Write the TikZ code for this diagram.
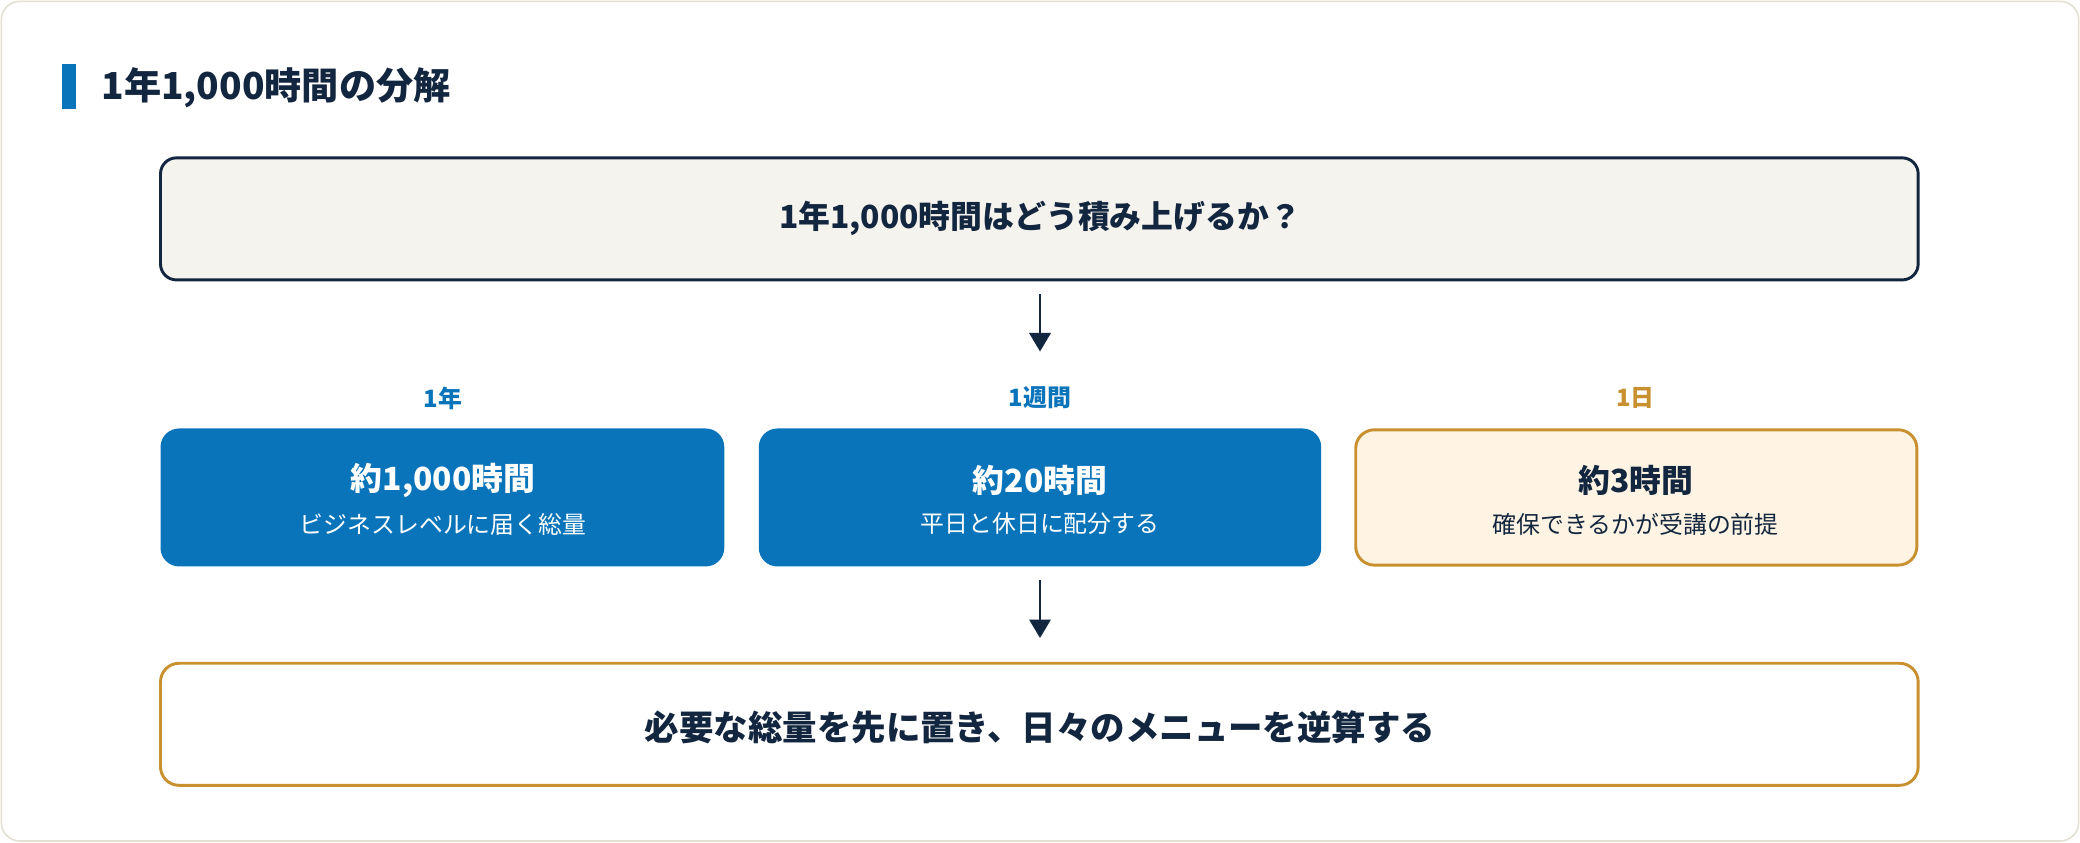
\documentclass[tikz,border=0pt]{standalone}
\usepackage{fontspec}
\setmainfont{Noto Sans CJK JP}
\usetikzlibrary{arrows.meta}
\definecolor{navy}{HTML}{13263F}
\definecolor{blu}{HTML}{0A74BA}
\definecolor{gold}{HTML}{C8902E}
\definecolor{cream}{HTML}{F5F3EE}
\definecolor{pale}{HTML}{FFF4E3}
\definecolor{edge}{HTML}{E2DFD3}
\tikzset{
 box/.style={draw=navy,line width=2.2pt,rounded corners=12pt,fill=cream},
 bluebox/.style={fill=blu,rounded corners=14pt},
 goldbox/.style={draw=gold,line width=2.2pt,rounded corners=14pt,fill=pale},
 arr/.style={draw=navy,line width=2.2pt,-{Triangle[length=14pt,width=16pt]}},
 lab/.style={font=\bfseries\fontsize{18}{20}\selectfont},
 big/.style={font=\bfseries\fontsize{24}{28}\selectfont},
 sub/.style={font=\fontsize{18}{20}\selectfont},
}
\begin{document}
\begin{tikzpicture}[x=1pt,y=-1pt]
\useasboundingbox (0,0) rectangle (1568,635);
\draw[edge,line width=1.2pt,fill=white,rounded corners=14pt] (1,1) rectangle (1567,634);
\fill[blu] (47,48) rectangle (57,82);
\node[anchor=west,text=navy,font=\bfseries\fontsize{28}{32}\selectfont] (title) at (73,66) {1年1,000時間の分解};
\draw[box] (121,119) rectangle (1446,211);
\node[big,text=navy] (top) at (784,165) {1年1,000時間はどう積み上げるか？};
\coordinate (a1s) at (784,222); \coordinate (a1e) at (784,265);
\draw[arr] (a1s) -- (a1e);
\node[lab,text=blu] (l1) at (334,300) {1年};
\node[lab,text=blu] (l2) at (784,300) {1週間};
\node[lab,text=gold] (l3) at (1233,300) {1日};
\fill[bluebox] (121,323) rectangle (546,427);
\fill[bluebox] (572,323) rectangle (996,427);
\draw[goldbox] (1022,324) rectangle (1445,426);
\node[big,text=white] (m1) at (334,362) {約1,000時間};
\node[sub,text=white] (s1) at (334,395) {ビジネスレベルに届く総量};
\node[big,text=white] (m2) at (784,362) {約20時間};
\node[sub,text=white] (s2) at (784,395) {平日と休日に配分する};
\node[big,text=navy] (m3) at (1233,362) {約3時間};
\node[sub,text=navy] (s3) at (1233,395) {確保できるかが受講の前提};
\coordinate (a2s) at (784,437); \coordinate (a2e) at (784,481);
\draw[arr] (a2s) -- (a2e);
\draw[draw=gold,line width=2.2pt,rounded corners=14pt,fill=white] (121,500) rectangle (1446,592);
\node[text=navy,font=\bfseries\fontsize{26}{30}\selectfont] (bot) at (784,548) {必要な総量を先に置き、日々のメニューを逆算する};
\end{tikzpicture}
\end{document}
